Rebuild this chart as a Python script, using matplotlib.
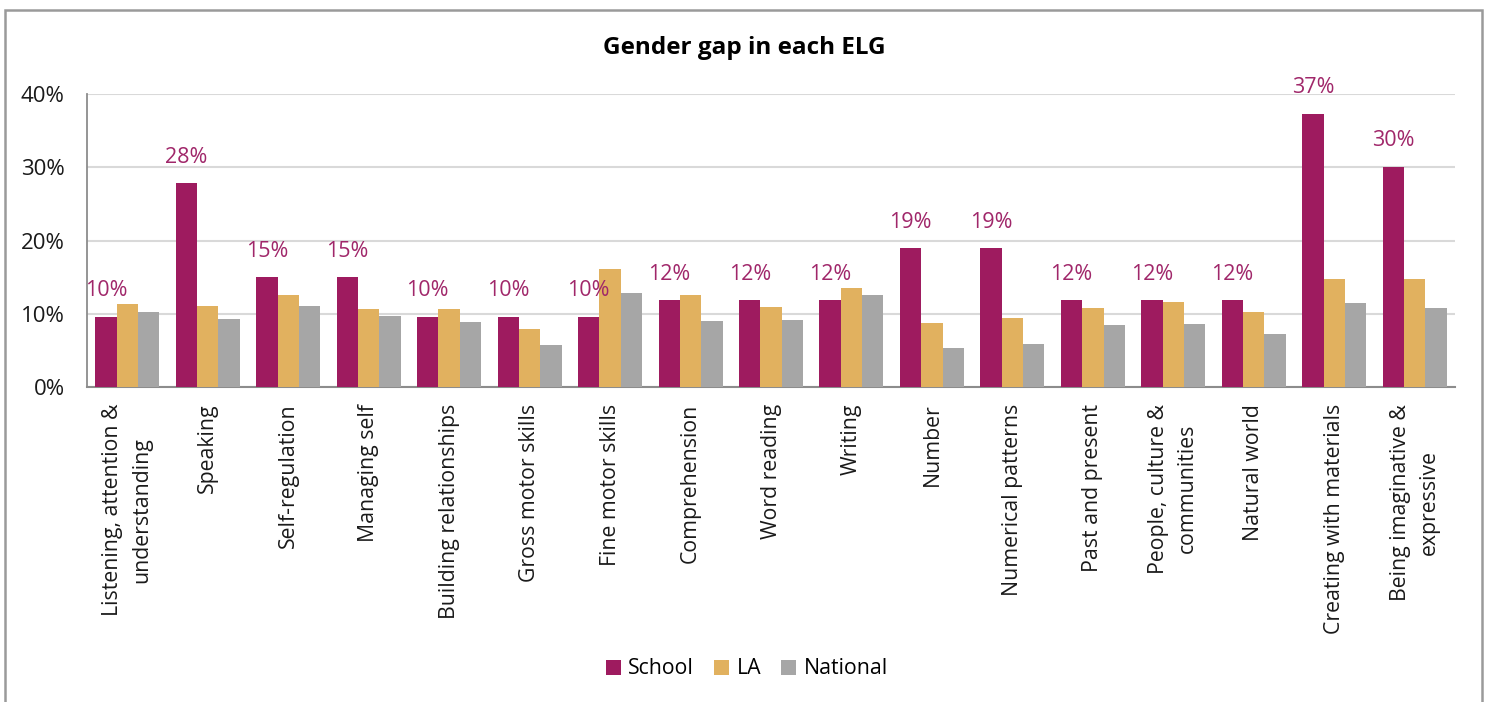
import matplotlib
matplotlib.use("Agg")
import matplotlib.pyplot as plt
import numpy as np
from matplotlib.patches import Rectangle

plt.rcParams['font.family'] = ['Open Sans', 'DejaVu Sans']

categories = [
    "Listening, attention &\nunderstanding", "Speaking", "Self-regulation",
    "Managing self", "Building relationships", "Gross motor skills",
    "Fine motor skills", "Comprehension", "Word reading", "Writing",
    "Number", "Numerical patterns", "Past and present",
    "People, culture &\ncommunities", "Natural world",
    "Creating with materials", "Being imaginative &\nexpressive",
]
school = [9.6, 27.8, 15.0, 15.0, 9.6, 9.6, 9.6, 11.9, 11.9, 11.9, 19.0, 19.0, 11.9, 11.9, 11.9, 37.3, 30.1]
la = [11.3, 11.1, 12.5, 10.7, 10.7, 7.9, 16.1, 12.5, 10.95, 13.45, 8.7, 9.4, 10.8, 11.55, 10.2, 14.8, 14.8]
national = [10.2, 9.3, 11.1, 9.7, 8.9, 5.7, 12.8, 9.0, 9.1, 12.5, 5.3, 5.9, 8.4, 8.6, 7.2, 11.5, 10.8]
series_names = ["School", "LA", "National"]
colors = ["#9E1B5F", "#E1B15F", "#A6A6A6"]
yticks = [0, 10, 20, 30, 40]

fig = plt.figure(figsize=(14.88, 7.02), dpi=100)
ax = fig.add_axes([87/1488, 1-387/702, (1455-87)/1488, (387-94)/702])

x = np.arange(len(categories))
w = 0.265
for i, (vals, name, c) in enumerate(zip([school, la, national], series_names, colors)):
    ax.bar(x + (i-1)*w, vals, width=w, color=c, label=name, zorder=3)
    if i == 0:
        for xi, v in zip(x + (i-1)*w, vals):
            ax.annotate(f"{round(v):.0f}%", (xi, v), xytext=(0, 11), textcoords='offset points',
                        ha='center', va='bottom', fontsize=15.5, color="#A0276A", zorder=4)

ax.set_xlim(-0.5, len(categories)-0.5)
ax.set_ylim(0, 40)
ax.set_yticks(yticks)
ax.set_yticklabels([f"{t}%" for t in yticks], fontsize=16, color="#1a1a1a")
ax.set_xticks(x)
ax.set_xticklabels(categories, rotation=90, fontsize=15.3, ha='center', va='top',
                   multialignment='center', color="#1a1a1a", linespacing=1.5)
ax.tick_params(axis='both', length=0)
ax.tick_params(axis='x', pad=12)
ax.tick_params(axis='y', pad=16)
ax.grid(axis='y', color='#d9d9d9', linewidth=1.5, zorder=0)
for s in ['top', 'right']:
    ax.spines[s].set_visible(False)
ax.spines['left'].set_color('#8c8c8c')
ax.spines['bottom'].set_color('#8c8c8c')
ax.spines['left'].set_linewidth(1.3)
ax.spines['bottom'].set_linewidth(1.5)

fig.text(0.5, 1-48/702, "Gender gap in each ELG", ha='center', va='center',
         fontsize=17.5, fontweight='bold', color='#000000')

fig.legend(loc='center', bbox_to_anchor=(0.502, 1-669/702), ncol=3, frameon=False,
           fontsize=15.3, handlelength=0.7, handleheight=0.7, handletextpad=0.35,
           columnspacing=0.95)

fig.patches.append(Rectangle((5/1488, -0.05), (1482-5)/1488, 1-9.5/702+0.05,
                             transform=fig.transFigure, fill=False,
                             edgecolor='#9a9a9a', linewidth=1.8))

fig.savefig("out.png", dpi=100)
